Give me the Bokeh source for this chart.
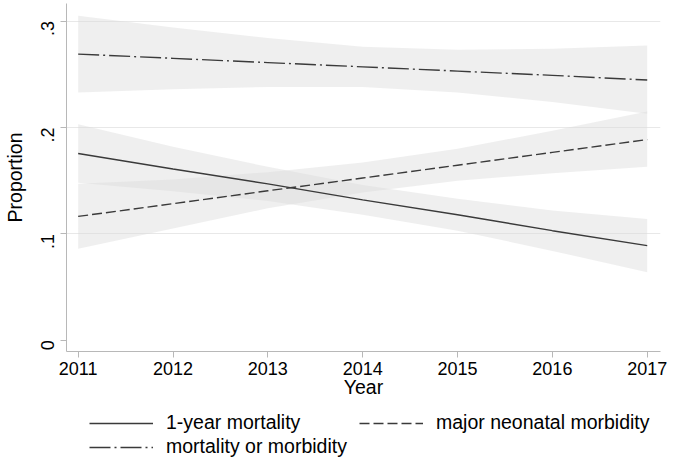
from bokeh.plotting import figure
from bokeh.layouts import column
from bokeh.models import Range1d, FixedTicker, CustomJSTickFormatter, Legend, LegendItem, ColumnDataSource
from bokeh.embed import file_html
from bokeh.resources import INLINE
import math

# ---- data ----
years = [2011, 2012, 2013, 2014, 2015, 2016, 2017]

mort1_fit = [0.1755, 0.161, 0.147, 0.132, 0.118, 0.103, 0.089]
mort1_lo = [0.148, 0.140, 0.131, 0.118, 0.103, 0.084, 0.064]
mort1_hi = [0.203, 0.182, 0.163, 0.146, 0.133, 0.122, 0.114]

major_fit = [0.1164, 0.1284, 0.1405, 0.1525, 0.1645, 0.1766, 0.1886]
major_lo = [0.086, 0.105, 0.124, 0.139, 0.150, 0.157, 0.163]
major_hi = [0.147, 0.151, 0.158, 0.167, 0.180, 0.197, 0.215]

either_fit = [0.269, 0.265, 0.261, 0.257, 0.253, 0.249, 0.2446]
either_lo = [0.233, 0.236, 0.238, 0.238, 0.233, 0.224, 0.213]
either_hi = [0.305, 0.294, 0.284, 0.276, 0.273, 0.274, 0.277]

y_ticks = [0, 0.1, 0.2, 0.3]
x_ticks = years

labels = ["1-year mortality", "major neonatal morbidity", "mortality or morbidity"]

FONT = "Liberation Sans"
W = 667

src = ColumnDataSource(dict(
    year=years,
    m_fit=mort1_fit, m_lo=mort1_lo, m_hi=mort1_hi,
    j_fit=major_fit, j_lo=major_lo, j_hi=major_hi,
    e_fit=either_fit, e_lo=either_lo, e_hi=either_hi,
))

p = figure(width=W, height=400, output_backend="svg", toolbar_location=None,
           x_range=Range1d(2010.877, 2017.14), y_range=Range1d(-0.01056, 0.31654),
           min_border_left=65, min_border_right=7, min_border_top=3, min_border_bottom=47)
p.outline_line_color = None
p.background_fill_color = "white"
p.border_fill_color = "white"

band_color = "#dadada"
band_alpha = 0.44
for lo, hi in [("e_lo", "e_hi"), ("m_lo", "m_hi"), ("j_lo", "j_hi")]:
    p.varea(x="year", y1=lo, y2=hi, source=src, fill_color=band_color, fill_alpha=band_alpha)

line_color = "#3a3a3a"
styles = [dict(line_dash="solid"), dict(line_dash="10 4"), dict(line_dash="21 4 2 4")]
p.line(x="year", y="m_fit", source=src, line_color=line_color, line_width=1.4, **styles[0])
p.line(x="year", y="j_fit", source=src, line_color=line_color, line_width=1.4, **styles[1])
p.line(x="year", y="e_fit", source=src, line_color=line_color, line_width=1.4, **styles[2])

# axes
axis_gray = "#b8b8b8"
p.xaxis.ticker = FixedTicker(ticks=x_ticks)
p.xaxis.axis_label = "Year"
p.yaxis.ticker = FixedTicker(ticks=y_ticks)
p.yaxis.formatter = CustomJSTickFormatter(code="return tick == 0 ? '0' : tick.toFixed(1).replace(/^0/, '');")
p.yaxis.axis_label = "Proportion"
p.yaxis.major_label_orientation = math.pi / 2

for ax in [p.xaxis[0], p.yaxis[0]]:
    ax.axis_line_color = axis_gray
    ax.major_tick_line_color = axis_gray
    ax.minor_tick_line_color = None
    ax.major_tick_in = 0
    ax.major_tick_out = 6
    ax.major_label_text_font = FONT
    ax.major_label_text_font_size = "18px"
    ax.major_label_text_color = "black"
    ax.axis_label_text_font = FONT
    ax.axis_label_text_font_size = "19.5px"
    ax.axis_label_text_font_style = "normal"
    ax.axis_label_text_color = "black"

p.xaxis.major_label_standoff = 4
p.xaxis.axis_label_standoff = -2
p.yaxis.major_label_standoff = 13
p.yaxis.axis_label_standoff = 6

p.xgrid.grid_line_color = None
p.ygrid.ticker = FixedTicker(ticks=[0.1, 0.2, 0.3])
p.ygrid.grid_line_color = "#e8e8e8"
p.ygrid.grid_line_width = 1

# ---- legend panel below the plot (its frame is aligned with the main frame) ----
lf = figure(width=W, height=57, output_backend="svg", toolbar_location=None,
            x_range=Range1d(0, 1), y_range=Range1d(0, 1),
            x_axis_type=None, y_axis_type=None,
            min_border_left=65, min_border_right=7, min_border_top=0, min_border_bottom=0)
lf.outline_line_color = None
lf.xgrid.grid_line_color = None
lf.ygrid.grid_line_color = None
nan = float("nan")
lr = [lf.line(x="x", y="y", source=ColumnDataSource(dict(x=[nan], y=[nan])),
              line_color=line_color, line_width=1.4, **s) for s in styles]

legend = Legend(items=[
    LegendItem(label=labels[0], renderers=[lr[0]]),
    LegendItem(label=labels[2], renderers=[lr[2]]),
    LegendItem(label=labels[1], renderers=[lr[1]]),
], ncols=2, location=(23, -1))
legend.label_text_font = FONT
legend.label_text_font_size = "19.5px"
legend.label_text_color = "black"
legend.glyph_width = 64
legend.glyph_height = 20
legend.label_height = 20
legend.label_width = 192
legend.label_standoff = 13
legend.spacing = 1
legend.padding = 0
legend.margin = 0
legend.border_line_alpha = 0
legend.background_fill_alpha = 0
lf.add_layout(legend, "center")

layout = column(p, lf, spacing=0)
open("out.html", "w").write(file_html(layout, INLINE))
